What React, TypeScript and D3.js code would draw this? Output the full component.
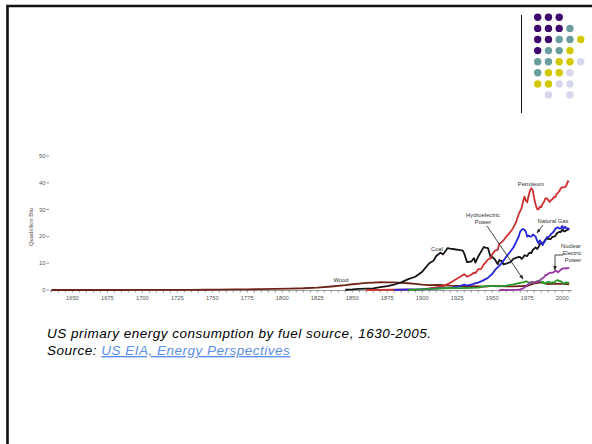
import React from "react";
import * as d3 from "d3";

const xTicks = [1650, 1675, 1700, 1725, 1750, 1775, 1800, 1825, 1850, 1875, 1900, 1925, 1950, 1975, 2000];
const yTicks = [0, 10, 20, 30, 40, 50];

const woodYears = [1635,1645,1655,1665,1675,1685,1695,1705,1715,1725,1735,1745,1755,1765,1775,1785,1795,1805,1815,1825,1835,1845,1850,1855,1860,1865,1870,1875,1880,1885,1890,1895,1900,1905,1910,1915,1920,1925,1930,1935,1940,1945,1950,1955,1960,1965,1970,1975,1980,1985,1990,1995,2000,2005];
const woodValues = [0,0.001,0.002,0.005,0.007,0.009,0.014,0.016,0.023,0.039,0.062,0.093,0.14,0.198,0.249,0.31,0.41,0.527,0.65,0.9,1.3,1.8,2.14,2.39,2.64,2.77,2.89,2.87,2.85,2.68,2.52,2.31,2.02,1.84,1.86,1.78,1.61,1.53,1.46,1.42,1.36,1.26,1.56,1.42,1.32,1.33,1.43,1.5,2.48,2.86,2.22,2.37,2.26,2.14];

const coalYears = [1845,1850,1855,1860,1865,1870,1875,1880,1885,1890,1895,1900,1905,1908,1910,1913,1915,1918,1920,1923,1926,1929,1930,1932,1935,1937,1938,1940,1942,1944,1945,1947,1949,1950,1952,1954,1955,1957,1958,1960,1963,1965,1967,1969,1970,1971,1972,1973,1975,1976,1977,1978,1979,1980,1981,1982,1983,1984,1985,1986,1987,1988,1989,1990,1991,1992,1993,1994,1995,1996,1997,1998,1999,2000,2001,2002,2003,2004,2005];
const coalValues = [0.1,0.22,0.42,0.52,0.63,1.05,1.44,2.05,2.84,4.06,4.95,6.84,10.0,10.9,12.71,13.9,13.3,15.6,15.4,15.2,15.0,14.7,13.6,10.4,10.63,11.9,10.2,12.53,14.3,16.1,15.8,15.6,12.0,12.35,11.3,9.6,11.17,10.8,9.53,9.84,10.4,11.58,11.98,12.38,12.27,11.6,12.08,12.97,12.66,13.58,13.92,13.77,15.04,15.42,15.91,15.32,15.89,17.07,17.48,17.26,18.01,18.85,19.07,19.17,18.99,19.12,19.84,19.91,20.09,21.0,21.45,21.66,21.62,22.58,21.91,21.9,22.32,22.47,22.8];

const petroleumYears = [1860,1870,1880,1890,1900,1905,1910,1915,1920,1925,1928,1930,1932,1935,1937,1938,1940,1942,1944,1945,1947,1949,1950,1952,1954,1955,1957,1958,1960,1962,1964,1965,1967,1968,1969,1970,1971,1972,1973,1974,1975,1976,1977,1978,1979,1980,1981,1982,1983,1984,1985,1986,1987,1988,1989,1990,1991,1992,1993,1994,1995,1996,1997,1998,1999,2000,2001,2002,2003,2004,2005];
const petroleumValues = [0,0.01,0.1,0.16,0.23,0.61,1.01,1.42,2.68,4.28,5.2,5.9,5.0,5.68,6.5,6.3,7.76,7.8,9.6,10.11,11.4,11.88,13.32,14.7,15.0,17.25,17.9,18.5,19.92,21.05,22.4,23.25,25.28,26.98,28.34,29.52,30.56,32.95,34.84,33.45,32.73,35.17,37.12,37.97,37.12,34.2,31.93,30.23,30.05,31.05,30.92,32.2,32.87,34.22,34.21,33.55,32.85,33.53,33.84,34.67,34.55,35.76,36.27,36.93,37.96,38.4,38.33,38.4,39.05,40.59,40.39];

const gasYears = [1880,1885,1890,1895,1900,1905,1910,1915,1920,1925,1930,1932,1935,1937,1940,1942,1945,1947,1950,1952,1955,1957,1960,1962,1965,1967,1969,1970,1971,1972,1973,1974,1975,1976,1977,1978,1979,1980,1981,1982,1983,1984,1985,1986,1987,1988,1989,1990,1991,1992,1993,1994,1995,1996,1997,1998,1999,2000,2001,2002,2003,2004,2005];
const gasValues = [0,0.14,0.26,0.15,0.25,0.37,0.54,0.67,0.82,1.21,1.97,1.6,1.97,2.4,2.73,3.2,3.97,4.6,5.97,7.5,9.0,10.2,12.39,13.7,15.77,17.9,20.06,21.8,22.47,22.7,22.51,21.73,19.95,20.35,19.93,20.0,20.67,20.39,19.93,18.51,17.36,18.51,17.83,16.71,17.74,18.55,19.71,19.73,20.15,20.84,21.35,21.84,22.78,23.2,23.33,22.94,23.01,23.92,22.86,23.63,22.97,23.0,22.64];

const hydroYears = [1890,1895,1900,1905,1910,1915,1920,1925,1930,1935,1940,1945,1950,1955,1960,1965,1970,1972,1974,1975,1977,1978,1980,1982,1983,1984,1985,1986,1987,1988,1989,1990,1991,1992,1993,1994,1995,1996,1997,1998,1999,2000,2001,2002,2003,2004,2005];
const hydroValues = [0,0.1,0.25,0.39,0.54,0.66,0.74,0.7,0.75,0.8,0.88,1.44,1.42,1.36,1.61,2.06,2.63,2.86,3.18,3.15,2.33,2.94,2.9,3.27,3.53,3.39,2.97,3.07,2.63,2.33,2.84,3.05,3.02,2.62,2.89,2.68,3.21,3.59,3.64,3.3,3.27,2.81,2.24,2.69,2.83,2.69,2.7];

const nuclearYears = [1955,1957,1960,1965,1968,1970,1972,1973,1974,1975,1976,1977,1978,1979,1980,1981,1982,1983,1984,1985,1986,1987,1988,1989,1990,1991,1992,1993,1994,1995,1996,1997,1998,1999,2000,2001,2002,2003,2004,2005];
const nuclearValues = [0,0,0.006,0.043,0.14,0.24,0.58,0.91,1.27,1.9,2.11,2.7,3.02,2.78,2.74,3.01,3.13,3.2,3.55,4.08,4.38,4.75,5.59,5.6,6.1,6.42,6.48,6.41,6.69,7.08,7.09,6.6,7.07,7.61,7.86,8.03,8.14,7.96,8.22,8.16];

const seriesNames = ["Wood", "Coal", "Petroleum", "Natural Gas", "Hydroelectric Power", "Nuclear Electric Power"];
const seriesColors = ["#6e2318", "#151515", "#cc3030", "#2626d8", "#2a9a2a", "#9a3aa6"];

const dotColors = ["#3e0a6e", "#6a9e9e", "#d2c800", "#d6d6ec"];
// grid of color indices (-1 = empty)
const dotGrid = [
  [0, 0, 0, -1, -1],
  [0, 0, 0, 1, -1],
  [0, 0, 1, 1, 2],
  [0, 1, 1, 2, -1],
  [1, 1, 2, 2, 3],
  [1, 2, 2, 3, -1],
  [2, 2, 3, 3, -1],
  [-1, 3, -1, 3, -1],
];

export default function App() {
  const x = d3.scaleLinear().domain([1634, 2007]).range([50, 572]);
  const y = d3.scaleLinear().domain([0, 50]).range([290, 156]);
  const line = d3
    .line<[number, number]>()
    .x((d) => x(d[0]))
    .y((d) => y(d[1]))
    .curve(d3.curveLinear);

  const series = [
    { years: woodYears, values: woodValues },
    { years: coalYears, values: coalValues },
    { years: petroleumYears, values: petroleumValues },
    { years: gasYears, values: gasValues },
    { years: hydroYears, values: hydroValues },
    { years: nuclearYears, values: nuclearValues },
  ];

  const minor = d3.range(1635, 2006, 5);
  const dotX = d3.scaleLinear().domain([0, 4]).range([537.7, 580.7]);
  const dotY = d3.scaleLinear().domain([0, 7]).range([17.3, 95]);

  const tickFont = "Liberation Sans, Arial, sans-serif";

  return (
    <svg
      width={592}
      height={444}
      style={{ position: "absolute", left: 0, top: 0, background: "#fff" }}
      xmlns="http://www.w3.org/2000/svg"
    >
      <defs>
        <marker id="arr" viewBox="0 0 10 10" refX="9" refY="5" markerWidth="5" markerHeight="5" orient="auto-start-reverse">
          <path d="M0,1 L10,5 L0,9 z" fill="#222" />
        </marker>
      </defs>
      <rect x={0} y={0} width={592} height={444} fill="#fff" />
      {/* slide frame */}
      <path d="M7.5,444 L7.5,6 L592,6" fill="none" stroke="#111" strokeWidth={2.6} />
      {/* decoration */}
      <line x1={521.5} x2={521.5} y1={15} y2={113} stroke="#111" strokeWidth={1} />
      {dotGrid.map((row, r) =>
        row.map((c, ci) =>
          c < 0 ? null : (
            <circle key={`d${r}-${ci}`} cx={dotX(ci)} cy={dotY(r)} r={3.7} fill={dotColors[c]} />
          )
        )
      )}

      {/* y axis */}
      {yTicks.map((t) => (
        <g key={`y${t}`} fontFamily={tickFont} fontSize={5.8} fill="#555">
          <text x={45.5} y={y(t)} dy="0.35em" textAnchor="end">
            {t}
          </text>
          <line x1={46.5} x2={49} y1={y(t)} y2={y(t)} stroke="#777" strokeWidth={0.8} />
        </g>
      ))}
      <text
        transform={`translate(32.5,${(y(0) + y(50)) / 2 + 4}) rotate(-90)`}
        textAnchor="middle"
        fontFamily={tickFont}
        fontSize={5.8}
        fill="#555"
      >
        Quadrillion Btu
      </text>

      {/* x axis */}
      <line x1={50} x2={572} y1={y(0) + 0.5} y2={y(0) + 0.5} stroke="#888" strokeWidth={0.8} />
      {minor.map((m) => (
        <line key={`m${m}`} x1={x(m)} x2={x(m)} y1={y(0)} y2={y(0) + 2.5} stroke="#777" strokeWidth={0.8} />
      ))}
      {xTicks.map((t) => (
        <text key={`x${t}`} x={x(t)} y={300} textAnchor="middle" fontFamily={tickFont} fontSize={5.8} fill="#555">
          {t}
        </text>
      ))}

      {/* series */}
      {series.map((s, i) => (
        <path
          key={seriesNames[i]}
          d={line(s.years.map((yr, k) => [yr, s.values[k]] as [number, number])) || ""}
          fill="none"
          stroke={seriesColors[i]}
          strokeWidth={1.8}
          strokeLinejoin="round"
        />
      ))}

      {/* annotations */}
      <g fontFamily={tickFont} fontSize={5.8} fill="#333">
        <text x={341} y={282} textAnchor="middle">Wood</text>
        <text x={437} y={251} textAnchor="middle">Coal</text>
        <text x={531} y={186} textAnchor="middle">Petroleum</text>
        <text x={483} y={217} textAnchor="middle">Hydroelectric</text>
        <text x={483} y={224} textAnchor="middle">Power</text>
        <text x={553} y={223} textAnchor="middle">Natural Gas</text>
        <text x={571} y={248} textAnchor="middle">Nuclear</text>
        <text x={572} y={255} textAnchor="middle">Electric</text>
        <text x={573} y={262} textAnchor="middle">Power</text>
      </g>
      <line x1={487} y1={226} x2={523} y2={279} stroke="#333" strokeWidth={0.9} markerEnd="url(#arr)" />
      <line x1={543} y1={225} x2={537} y2={233} stroke="#333" strokeWidth={0.9} markerEnd="url(#arr)" />
      <polyline points="563,255 555,255 555,270" fill="none" stroke="#333" strokeWidth={0.9} markerEnd="url(#arr)" />

      {/* caption */}
      <text x={47} y={338} fontFamily="Liberation Sans, Arial, sans-serif" fontStyle="italic" fontSize={13.5} letterSpacing={0.5} fill="#000">
        US primary energy consumption by fuel source, 1630-2005.
      </text>
      <text x={47} y={355} fontFamily="Liberation Sans, Arial, sans-serif" fontStyle="italic" fontSize={13.5} letterSpacing={0.5} fill="#000">
        Source:{" "}
        <tspan fill="#5b8ee6" textDecoration="underline">US EIA, Energy Perspectives</tspan>
      </text>
    </svg>
  );
}
